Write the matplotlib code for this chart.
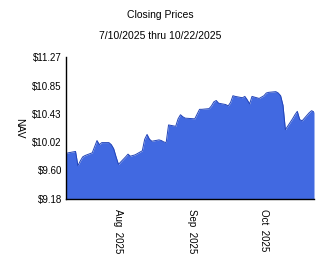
import pandas as pd
import matplotlib
matplotlib.use('Agg')
import matplotlib.pyplot as plt
import matplotlib.dates as mdates

plt.rcParams['font.family'] = ['Liberation Sans', 'DejaVu Sans']

## NAV closing prices (trading days)
dates = pd.to_datetime([
    '2025-07-10', '2025-07-11', '2025-07-14', '2025-07-15', '2025-07-16', '2025-07-17', '2025-07-18',
    '2025-07-21', '2025-07-22', '2025-07-23', '2025-07-24', '2025-07-25',
    '2025-07-28', '2025-07-29', '2025-07-30', '2025-07-31', '2025-08-01',
    '2025-08-04', '2025-08-05', '2025-08-06', '2025-08-07', '2025-08-08',
    '2025-08-11', '2025-08-12', '2025-08-13', '2025-08-14', '2025-08-15',
    '2025-08-18', '2025-08-19', '2025-08-20', '2025-08-21', '2025-08-22',
    '2025-08-25', '2025-08-26', '2025-08-27', '2025-08-28', '2025-08-29',
    '2025-09-02', '2025-09-03', '2025-09-04', '2025-09-05',
    '2025-09-08', '2025-09-09', '2025-09-10', '2025-09-11', '2025-09-12',
    '2025-09-15', '2025-09-16', '2025-09-17', '2025-09-18', '2025-09-19',
    '2025-09-22', '2025-09-23', '2025-09-24', '2025-09-25', '2025-09-26',
    '2025-09-29', '2025-09-30', '2025-10-01', '2025-10-02', '2025-10-03',
    '2025-10-06', '2025-10-07', '2025-10-08', '2025-10-09', '2025-10-10',
    '2025-10-13', '2025-10-14', '2025-10-15', '2025-10-16', '2025-10-17',
    '2025-10-20', '2025-10-21', '2025-10-22'])
nav = [
    9.85, 9.86, 9.88, 9.67, 9.74, 9.80, 9.82,
    9.86, 9.95, 10.04, 9.98, 10.01,
    10.01, 9.98, 9.92, 9.80, 9.69,
    9.80, 9.84, 9.81, 9.82, 9.83,
    9.89, 10.06, 10.13, 10.06, 10.03,
    10.05, 10.04, 10.02, 10.01, 10.27,
    10.25, 10.36, 10.42, 10.39, 10.37,
    10.36, 10.43, 10.50, 10.50,
    10.51, 10.55, 10.61, 10.63, 10.59,
    10.57, 10.55, 10.60, 10.70, 10.69,
    10.67, 10.69, 10.64, 10.58, 10.69,
    10.66, 10.68, 10.70, 10.74, 10.75,
    10.76, 10.74, 10.70, 10.56, 10.20,
    10.36, 10.42, 10.47, 10.35, 10.33,
    10.45, 10.48, 10.46]

yticks = [9.18, 9.60, 10.02, 10.43, 10.85, 11.27]
xticks = pd.to_datetime(['2025-08-01', '2025-09-01', '2025-10-01'])

fig = plt.figure(figsize=(3.24, 2.67), dpi=100)
ax = fig.add_axes([66 / 324, 1 - 199 / 267, 248 / 324, 142 / 267])

ax.fill_between(dates, yticks[0], nav, color='#4169e1', linewidth=0)
ax.plot(dates, nav, color='#2244b8', linewidth=0.7)

ax.set_xlim(dates[0], dates[-1])
ax.set_ylim(yticks[0], yticks[-1])
ax.set_yticks(yticks)
ax.set_yticklabels(['${:.2f}'.format(v) for v in yticks], fontsize=7)
ax.set_xticks(xticks)
ax.xaxis.set_major_formatter(mdates.DateFormatter('%b  %Y'))
plt.setp(ax.get_xticklabels(), rotation=270, fontsize=7, ha='center', va='top')
ax.tick_params(axis='both', length=0, pad=3)
ax.tick_params(axis='x', pad=7)

ax.spines['top'].set_visible(False)
ax.spines['right'].set_visible(False)
ax.spines['left'].set_linewidth(1.0)
ax.spines['bottom'].set_linewidth(1.0)

ax.set_ylabel('NAV', rotation=270, fontsize=7.5, va='center')
ax.yaxis.set_label_coords(-0.19, 0.5)

fig.text(0.494, 1 - 15 / 267, 'Closing Prices', ha='center', va='center', fontsize=7.5)
fig.text(0.494, 1 - 36 / 267, '7/10/2025 thru 10/22/2025', ha='center', va='center', fontsize=7.5)

fig.savefig('out.png', dpi=100)
